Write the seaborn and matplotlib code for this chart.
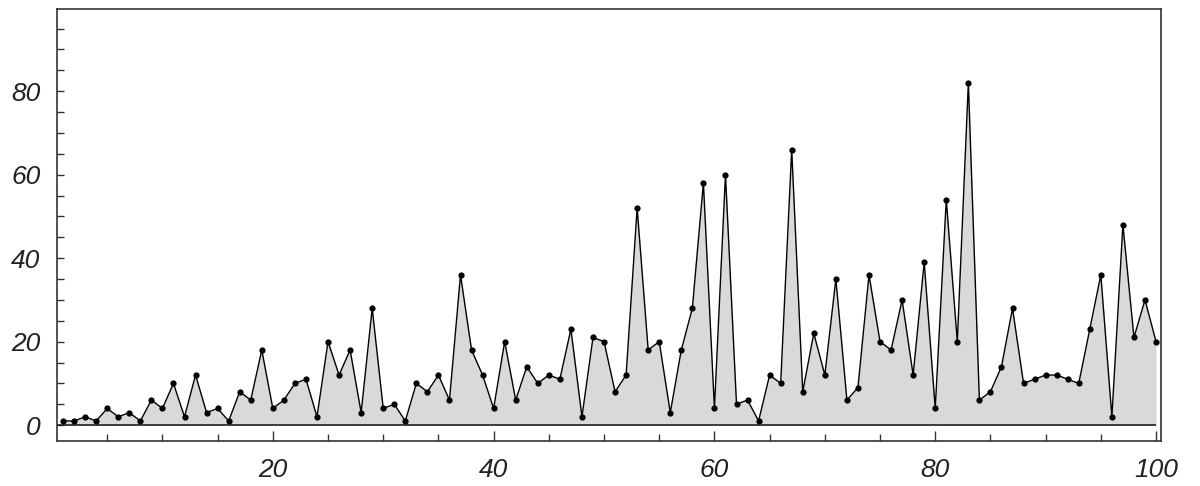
import numpy as np
import pandas as pd
import matplotlib
matplotlib.use("Agg")
import matplotlib.pyplot as plt
import seaborn as sns
from matplotlib.ticker import MultipleLocator

# values, x = 1..100
x_vals = list(range(1, 101))
y_vals = [1, 1, 2, 1, 4, 2, 3, 1, 6, 4,
          10, 2, 12, 3, 4, 1, 8, 6, 18, 4,
          6, 10, 11, 2, 20, 12, 18, 3, 28, 4,
          5, 1, 10, 8, 12, 6, 36, 18, 12, 4,
          20, 6, 14, 10, 12, 11, 23, 2, 21, 20,
          8, 12, 52, 18, 20, 3, 18, 28, 58, 4,
          60, 5, 6, 1, 12, 10, 66, 8, 22, 12,
          35, 6, 9, 36, 20, 18, 30, 12, 39, 4,
          54, 20, 82, 6, 8, 14, 28, 10, 11, 12,
          12, 11, 10, 23, 36, 2, 48, 21, 30, 20]
x_ticks = [20, 40, 60, 80, 100]
y_ticks = [0, 20, 40, 60, 80]

df = pd.DataFrame({"x": x_vals, "y": y_vals})

sns.set_style("ticks")
plt.rcParams["font.family"] = ["Liberation Sans", "DejaVu Sans"]

fig = plt.figure(figsize=(12, 4.86), dpi=100)
ax = fig.add_axes([0.0475, 0.0926, 0.92, 0.889])

ax.fill_between(df["x"], 0, df["y"], color="#d9d9d9", linewidth=0, zorder=1)
sns.lineplot(data=df, x="x", y="y", ax=ax, color="black", linewidth=1.0,
             marker="o", markersize=4.5, markeredgewidth=0, zorder=3)
ax.hlines(0, 0.45, df["x"].max(), color="#222222", linewidth=1.2, zorder=2)

ax.set_xlim(0.45, 100.45)
ax.set_ylim(-3.8, 99.7)
ax.set_xticks(x_ticks)
ax.set_yticks(y_ticks)
ax.xaxis.set_minor_locator(MultipleLocator(5))
ax.yaxis.set_minor_locator(MultipleLocator(5))
ax.set_xlabel("")
ax.set_ylabel("")

for s in ax.spines.values():
    s.set_color("#333333")
    s.set_linewidth(1.2)

ax.tick_params(axis="both", which="both", direction="in", color="#333333",
               labelcolor="#222222", top=False, right=False)
ax.tick_params(axis="x", which="major", length=7, width=1, pad=12)
ax.tick_params(axis="x", which="minor", length=5, width=1)
ax.tick_params(axis="y", which="major", length=5, width=1, pad=12)
ax.tick_params(axis="y", which="minor", length=5, width=1)
for lab in ax.get_xticklabels() + ax.get_yticklabels():
    lab.set_fontstyle("italic")
    lab.set_fontsize(19)

fig.savefig("out.png", dpi=100)
